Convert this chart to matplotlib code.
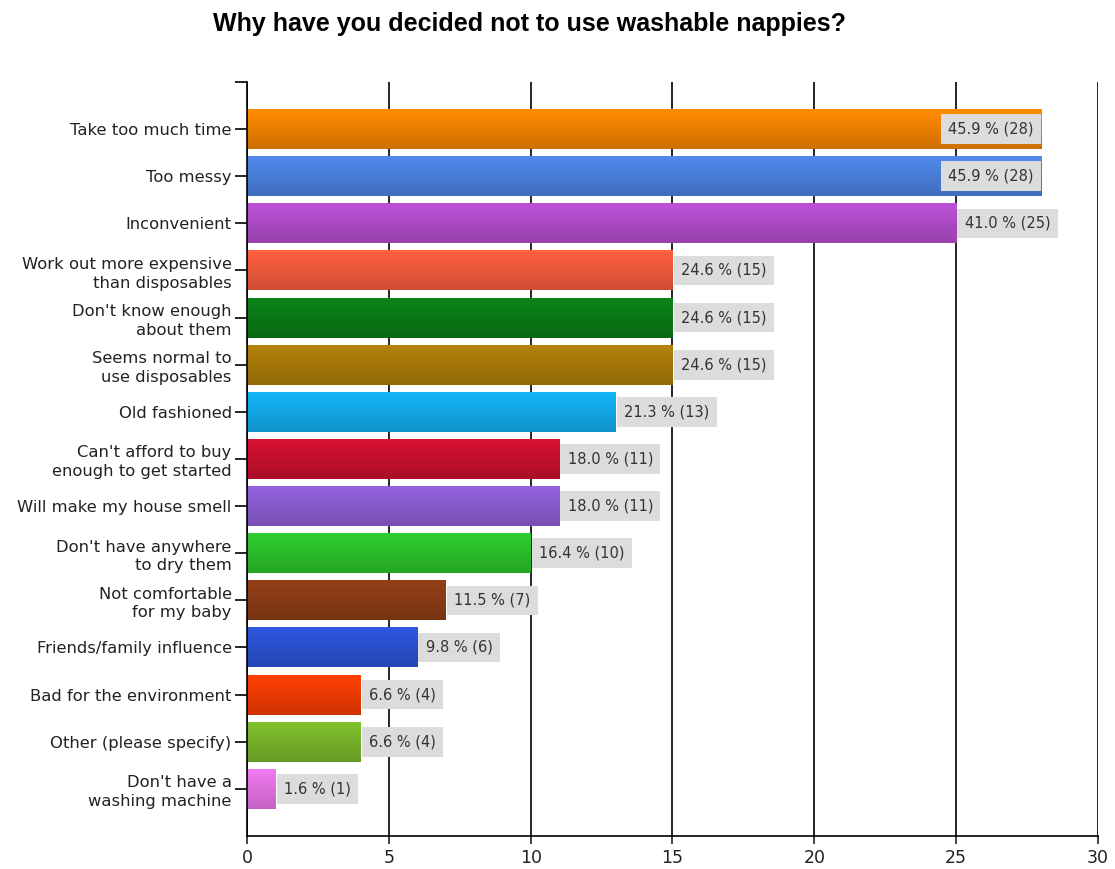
import matplotlib.pyplot as plt
import numpy as np
from matplotlib.colors import to_rgb

plt.rcParams['font.family'] = ['DejaVu Sans']

# Survey answers, counts and shares
reasons = [
    'Take too much time',
    'Too messy',
    'Inconvenient',
    'Work out more expensive\nthan disposables',
    "Don't know enough\nabout them",
    'Seems normal to\nuse disposables',
    'Old fashioned',
    "Can't afford to buy\nenough to get started",
    'Will make my house smell',
    "Don't have anywhere\nto dry them",
    'Not comfortable\nfor my baby',
    'Friends/family influence',
    'Bad for the environment',
    'Other (please specify)',
    "Don't have a\nwashing machine",
]
counts = [28, 28, 25, 15, 15, 15, 13, 11, 11, 10, 7, 6, 4, 4, 1]
percents = [45.9, 45.9, 41.0, 24.6, 24.6, 24.6, 21.3, 18.0, 18.0, 16.4, 11.5, 9.8, 6.6, 6.6, 1.6]
colors = ['#f08200', '#4a80dc', '#b04cc8', '#f05a3c', '#0a7a16', '#a87a08',
          '#12aaea', '#c8102e', '#8a5cd0', '#2cc02c', '#8a3c16', '#2a52d0',
          '#f03c02', '#78b42a', '#e272e2']

fig = plt.figure(figsize=(11.15, 8.69), dpi=100)
ax = fig.add_axes([0.2215, 0.038, 0.7632, 0.8677])

y = np.arange(len(reasons))
bars = ax.barh(y, counts, height=0.85, color=colors, zorder=2)

# vertical shading on each bar: lighter on top, darker at the bottom
for bar, c in zip(bars, colors):
    base = np.array(to_rgb(c))
    shade = np.linspace(1.08, 0.86, 64)
    grad = np.clip(base[None, :] * shade[:, None], 0, 1)[:, None, :]
    x0, y0 = bar.get_x(), bar.get_y()
    w, h = bar.get_width(), bar.get_height()
    im = ax.imshow(grad, extent=(x0, x0 + w, y0 + h, y0), aspect='auto',
                   interpolation='bilinear', zorder=2.5)
    im.set_clip_path(bar)

xmax = 30
for yi, n, p in zip(y, counts, percents):
    label = f'{p:.1f} % ({n})'
    box = dict(boxstyle='square,pad=0.5', fc='#dcdcdc', ec='none')
    if n + 3.8 > xmax - 1.0:
        ax.text(n - 0.27, yi, label, ha='right', va='center', fontsize=10.5,
                color='#333333', bbox=box, zorder=4)
    else:
        ax.text(n + 0.3, yi, label, ha='left', va='center', fontsize=10.5,
                color='#333333', bbox=box, zorder=4)

ax.set_xlim(0, xmax)
ax.set_ylim(len(reasons), -1)
ax.set_xticks(range(0, 31, 5))
ax.set_yticks(y)
ax.set_yticks([-1], minor=True)
ax.set_yticklabels(reasons, fontsize=11.8, color='#222222', linespacing=1.3)
ax.tick_params(axis='x', labelsize=12.5, colors='#222222', length=6, width=1.2)
ax.tick_params(axis='y', which='both', length=9, width=1.2, pad=2)
ax.xaxis.grid(True, color='black', linewidth=1.2, zorder=1)
ax.set_axisbelow(True)

for side in ['top', 'right']:
    ax.spines[side].set_visible(False)
for side in ['left', 'bottom']:
    ax.spines[side].set_linewidth(1.2)

fig.text(0.475, 0.972, 'Why have you decided not to use washable nappies?',
         ha='center', va='center', fontsize=18, fontweight='bold',
         family=['Liberation Sans', 'DejaVu Sans'])

fig.savefig('out.png', dpi=100)
